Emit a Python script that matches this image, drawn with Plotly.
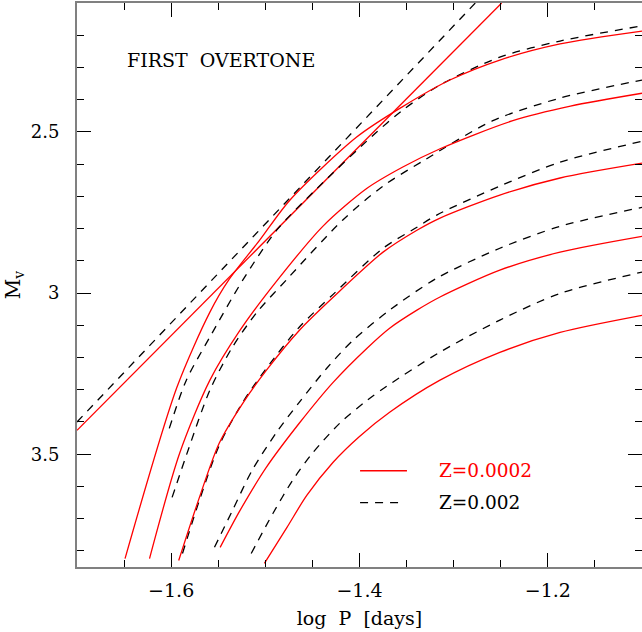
import plotly.graph_objects as go

# ---- data (log P [days], M_V) ----
edge_z0002_logp = [-1.700, -1.249]
edge_z0002_mv = [3.426, 2.100]
edge_z002_logp = [-1.700, -1.277]
edge_z002_mv = [3.400, 2.100]

z0002_logp = [
    [-1.649, -1.594, -1.559, -1.539, -1.506, -1.474, -1.403, -1.355, -1.304, -1.251, -1.187, -1.100],
    [-1.623, -1.591, -1.559, -1.527, -1.488, -1.439, -1.392, -1.354, -1.315, -1.238, -1.176, -1.100],
    [-1.592, -1.570, -1.549, -1.524, -1.499, -1.464, -1.428, -1.375, -1.339, -1.315, -1.251, -1.187, -1.100],
    [-1.548, -1.527, -1.499, -1.464, -1.428, -1.392, -1.368, -1.339, -1.315, -1.251, -1.187, -1.100],
    [-1.501, -1.477, -1.456, -1.428, -1.400, -1.368, -1.315, -1.251, -1.187, -1.100],
]
z0002_mv = [
    [3.824, 3.293, 3.060, 2.960, 2.836, 2.712, 2.516, 2.423, 2.339, 2.277, 2.227, 2.187],
    [3.824, 3.497, 3.271, 3.116, 2.963, 2.793, 2.675, 2.609, 2.553, 2.466, 2.420, 2.380],
    [3.830, 3.634, 3.466, 3.342, 3.240, 3.116, 3.013, 2.873, 2.805, 2.768, 2.696, 2.643, 2.597],
    [3.789, 3.675, 3.541, 3.404, 3.277, 3.171, 3.109, 3.053, 3.013, 2.929, 2.873, 2.824],
    [3.839, 3.727, 3.628, 3.525, 3.445, 3.370, 3.271, 3.184, 3.122, 3.069],
]

z002_logp = [
    [-1.602, -1.584, -1.559, -1.524, -1.488, -1.445, -1.382, -1.354, -1.315, -1.251, -1.187, -1.100],
    [-1.599, -1.581, -1.559, -1.535, -1.509, -1.477, -1.418, -1.375, -1.333, -1.259, -1.187, -1.100],
    [-1.588, -1.570, -1.549, -1.524, -1.499, -1.464, -1.428, -1.375, -1.339, -1.318, -1.251, -1.187, -1.100],
    [-1.554, -1.535, -1.514, -1.488, -1.464, -1.435, -1.407, -1.368, -1.318, -1.251, -1.187, -1.100],
    [-1.515, -1.492, -1.471, -1.450, -1.421, -1.392, -1.371, -1.315, -1.251, -1.187, -1.100],
]
z002_mv = [
    [3.420, 3.271, 3.137, 2.960, 2.805, 2.675, 2.501, 2.432, 2.355, 2.268, 2.218, 2.171],
    [3.634, 3.479, 3.302, 3.168, 3.060, 2.957, 2.774, 2.668, 2.591, 2.466, 2.395, 2.339],
    [3.808, 3.643, 3.473, 3.339, 3.234, 3.106, 3.004, 2.861, 2.796, 2.758, 2.668, 2.594, 2.529],
    [3.789, 3.675, 3.550, 3.432, 3.339, 3.234, 3.147, 3.053, 2.954, 2.861, 2.793, 2.734],
    [3.808, 3.684, 3.581, 3.497, 3.404, 3.333, 3.289, 3.184, 3.084, 3.001, 2.935],
]

x_ticks = [-1.6, -1.4, -1.2]
y_ticks = [2.5, 3.0, 3.5]
y_tick_text = ["2.5", "3", "3.5"]
legend_labels = ["Z=0.0002", "Z=0.002"]

RED = "#ff0000"
BLACK = "#000000"
DASH = "8px,7px"
FONT = "DejaVu Serif"

fig = go.Figure()

fig.add_trace(go.Scatter(x=edge_z0002_logp, y=edge_z0002_mv, mode="lines",
                         line=dict(color=RED, width=1.3), showlegend=False))
fig.add_trace(go.Scatter(x=edge_z002_logp, y=edge_z002_mv, mode="lines",
                         line=dict(color=BLACK, width=1.3, dash=DASH), showlegend=False))
for xs, ys in zip(z002_logp, z002_mv):
    fig.add_trace(go.Scatter(x=xs, y=ys, mode="lines",
                             line=dict(color=BLACK, width=1.3, dash=DASH, shape="spline", smoothing=0.8),
                             showlegend=False))
for xs, ys in zip(z0002_logp, z0002_mv):
    fig.add_trace(go.Scatter(x=xs, y=ys, mode="lines",
                             line=dict(color=RED, width=1.3, shape="spline", smoothing=0.8),
                             showlegend=False))

axis_common = dict(
    showgrid=False, zeroline=False, automargin=False,
    showline=True, linecolor="#808080", linewidth=2,
    mirror="allticks", ticks="inside", ticklen=14, tickwidth=1.2, tickcolor="#000000",
)

fig.update_xaxes(
    range=[-1.7, -1.1], tickvals=x_ticks,
    tickfont=dict(family=FONT, size=19, color="#000000"),
    minor=dict(dtick=0.05, tick0=0, ticks="inside", ticklen=7, tickwidth=1.2, tickcolor="#000000"),
    ticklabelstandoff=5,
    title=dict(text="log\u00a0\u00a0P\u00a0\u00a0[days]", font=dict(family=FONT, size=19, color="#000000"),
               standoff=12),
    **axis_common,
)
fig.update_yaxes(
    range=[3.85, 2.1], tickvals=y_ticks, ticktext=y_tick_text,
    tickfont=dict(family=FONT, size=18, color="#000000"),
    minor=dict(dtick=0.1, tick0=0, ticks="inside", ticklen=7, tickwidth=1.2, tickcolor="#000000"),
    ticklabelstandoff=12,
    title=dict(text="M<sub>v</sub>", font=dict(family=FONT, size=20, color="#000000"), standoff=5),
    **axis_common,
)

# legend drawn as keys + labels
fig.add_shape(type="line", xref="paper", yref="paper", x0=0.501, x1=0.584, y0=0.1707, y1=0.1707,
              line=dict(color=RED, width=1.3))
fig.add_shape(type="line", xref="paper", yref="paper", x0=0.501, x1=0.575, y0=0.114, y1=0.114,
              line=dict(color=BLACK, width=1.3, dash=DASH))
fig.add_annotation(xref="paper", yref="paper", x=0.637, y=0.1707, xanchor="left", yanchor="middle",
                   text=legend_labels[0], showarrow=False, font=dict(family=FONT, size=18.5, color=RED))
fig.add_annotation(xref="paper", yref="paper", x=0.637, y=0.114, xanchor="left", yanchor="middle",
                   text=legend_labels[1], showarrow=False, font=dict(family=FONT, size=18.5, color=BLACK))
fig.add_annotation(xref="paper", yref="paper", x=0.085, y=0.899, xanchor="left", yanchor="middle",
                   text="FIRST\u00a0\u00a0OVERTONE", showarrow=False,
                   font=dict(family=FONT, size=19, color=BLACK))

fig.update_layout(
    width=642, height=632,
    margin=dict(l=77, r=0, t=3, b=65),
    paper_bgcolor="white", plot_bgcolor="white",
    showlegend=False,
)

fig.write_html("out.html", config={"displayModeBar": False},
               post_script="document.body.style.margin='0';document.body.style.overflow='hidden';")
